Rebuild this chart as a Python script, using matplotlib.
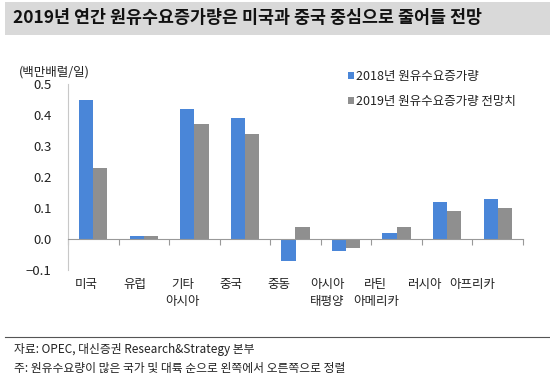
import matplotlib
matplotlib.use("Agg")
import matplotlib.pyplot as plt
import matplotlib.transforms as mtrans
import numpy as np

plt.rcParams['font.family'] = ['Noto Sans CJK KR', 'DejaVu Sans']

categories = ["미국", "유럽", "기타\n아시아", "중국", "중동", "아시아\n태평양", "라틴\n아메리카", "러시아", "아프리카"]
s2018 = [0.45, 0.01, 0.42, 0.39, -0.07, -0.04, 0.02, 0.12, 0.13]
s2019 = [0.23, 0.01, 0.37, 0.34, 0.04, -0.03, 0.04, 0.09, 0.10]
series_names = ["2018년 원유수요증가량", "2019년 원유수요증가량 전망치"]
yticks = [-0.1, 0.0, 0.1, 0.2, 0.3, 0.4, 0.5]
ytick_labels = ["\u22120.1", "0.0", "0.1", "0.2", "0.3", "0.4", "0.5"]

title = "2019년 연간 원유수요증가량은 미국과 중국 중심으로 줄어들 전망"
unit = "(백만배럴/일)"
source = "자료: OPEC, 대신증권 Research&Strategy 본부"
note = "주: 원유수요량이 많은 국가 및 대륙 순으로 왼쪽에서 오른쪽으로 정렬"

blue = "#4A86D8"
gray = "#8F8F8F"
txt = "#222222"

fig = plt.figure(figsize=(5.5, 3.82), dpi=100)
W, H = 550, 382

# title band
fig.patches.append(plt.Rectangle((5 / W, 1 - 35 / H), 1 - 5 / W, 33 / H, transform=fig.transFigure,
                                 facecolor="#D9D9D9", edgecolor="none"))
fig.text(13 / W, 1 - 18 / H, title, fontsize=12.5, fontweight="bold", color="#111111", va="center", ha="left")

ax = fig.add_axes([68 / W, 1 - 270 / H, (523 - 68) / W, (270 - 84) / H])
x = np.arange(len(categories))
bw = 0.28
ax.bar(x - bw / 2, s2018, width=bw, color=blue, label=series_names[0])
ax.bar(x + bw / 2, s2019, width=bw, color=gray, label=series_names[1])

ax.set_xlim(-0.5, len(categories) - 0.5)
ax.set_ylim(-0.1, 0.5)
ax.set_yticks(yticks)
ax.set_yticklabels(ytick_labels, fontsize=9.5, color=txt)
ax.tick_params(axis="y", length=0, pad=12)

for s in ["top", "right"]:
    ax.spines[s].set_visible(False)
ax.spines["left"].set_color("#C8C8C8")
ax.spines["bottom"].set_position(("data", 0))
ax.spines["bottom"].set_color("#999999")
ax.set_xticks(np.arange(len(categories) + 1) - 0.5)
ax.set_xticklabels([])
ax.tick_params(axis="x", which="major", direction="out", length=4, color="#999999")

trans = mtrans.blended_transform_factory(ax.transData, fig.transFigure)
for xi, c in zip(x, categories):
    ax.text(xi * 0.955 - 0.14, 1 - 278 / H, c, transform=trans, ha="center", va="top", fontsize=9,
            color=txt, linespacing=1.45)

fig.text(19 / W, 1 - 72 / H, unit, fontsize=9, color=txt, ha="left", va="center")

leg = ax.legend(loc="upper left", bbox_to_anchor=(348 / W, 1 - 70 / H), bbox_transform=fig.transFigure,
                frameon=False, fontsize=9, handlelength=0.45, handleheight=0.45, handletextpad=0.2,
                labelspacing=0.95, borderaxespad=0, borderpad=0)
for t in leg.get_texts():
    t.set_color(txt)

# separator line and footnotes
fig.add_artist(plt.Line2D([5 / W, 1], [1 - 337 / H, 1 - 337 / H], transform=fig.transFigure,
                          color="#555555", linewidth=0.8))
fig.text(14 / W, 1 - 349 / H, source, fontsize=8.5, color=txt, ha="left", va="center")
fig.text(14 / W, 1 - 368 / H, note, fontsize=8.5, color=txt, ha="left", va="center")

fig.savefig("out.png", dpi=100, facecolor="white")
